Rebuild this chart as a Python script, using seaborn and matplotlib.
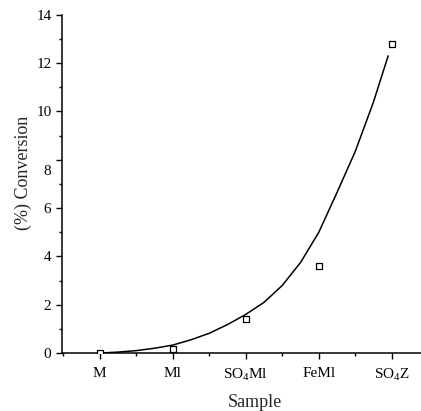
import matplotlib
matplotlib.use("Agg")
import matplotlib.pyplot as plt
import matplotlib.transforms as mtransforms
import seaborn as sns
import pandas as pd
from matplotlib.ticker import MultipleLocator

sns.set_style("ticks")
plt.rcParams['font.family'] = ['Liberation Serif', 'DejaVu Serif']
plt.rcParams['mathtext.fontset'] = 'custom'
plt.rcParams['mathtext.rm'] = 'Liberation Serif'
plt.rcParams['mathtext.it'] = 'Liberation Serif'

samples = ["M", "Ml", "SO$_4$Ml", "FeMl", "SO$_4$Z"]
sample_pos = [0, 1, 2, 3, 4]
conversion = [0.02, 0.17, 1.40, 3.60, 12.78]

# fitted curve
curve_x = [0.0, 0.25, 0.5, 0.75, 1.0, 1.25, 1.5, 1.75, 2.0, 2.25, 2.5, 2.75, 3.0, 3.25, 3.5, 3.75, 3.95]
curve_y = [0.0, 0.04, 0.1, 0.2, 0.33, 0.55, 0.82, 1.18, 1.6, 2.1, 2.8, 3.75, 5.0, 6.65, 8.35, 10.4, 12.3]

y_ticks = [0, 2, 4, 6, 8, 10, 12, 14]

pts = pd.DataFrame({"x": sample_pos, "y": conversion})
crv = pd.DataFrame({"x": curve_x, "y": curve_y})

fig = plt.figure(figsize=(4.21, 4.11), dpi=100)
ax = fig.add_axes([0.147, 0.141, 0.853, 0.823])

sns.lineplot(data=crv, x="x", y="y", ax=ax, color="black", linewidth=1.1, estimator=None, sort=False)
sns.scatterplot(data=pts, x="x", y="y", ax=ax, marker="s", s=22, facecolor="white",
                edgecolor="black", linewidth=0.9, zorder=5)

ax.set_xlim(-0.52, 4.4)
ax.set_ylim(0, 14)
ax.set_xticks(sample_pos)
ax.set_xticklabels(samples)
ax.xaxis.set_minor_locator(MultipleLocator(0.5))
ax.set_yticks(y_ticks)
ax.yaxis.set_minor_locator(MultipleLocator(1))
ax.tick_params(axis='both', which='major', length=4, width=1, labelsize=11, color='black', labelcolor='black')
ax.tick_params(axis='x', which='major', pad=6)
ax.tick_params(axis='both', which='minor', length=2, width=1, color='black')
for s in ["top", "right"]:
    ax.spines[s].set_visible(False)
for s in ["left", "bottom"]:
    ax.spines[s].set_color("black")
    ax.spines[s].set_linewidth(1.1)

# the "8" label sits slightly low in the original
fig.canvas.draw()
for lbl in ax.get_yticklabels():
    if lbl.get_text() == "8":
        lbl.set_transform(lbl.get_transform() +
                          mtransforms.ScaledTranslation(0, -10 / 100, fig.dpi_scale_trans))

ax.set_xlabel("Sample", fontsize=13)
ax.xaxis.set_label_coords(0.538, -0.12)
ax.set_ylabel("(%) Conversion", fontsize=13)
ax.yaxis.set_label_coords(-0.084, 0.532)

fig.savefig("out.png", dpi=100)
